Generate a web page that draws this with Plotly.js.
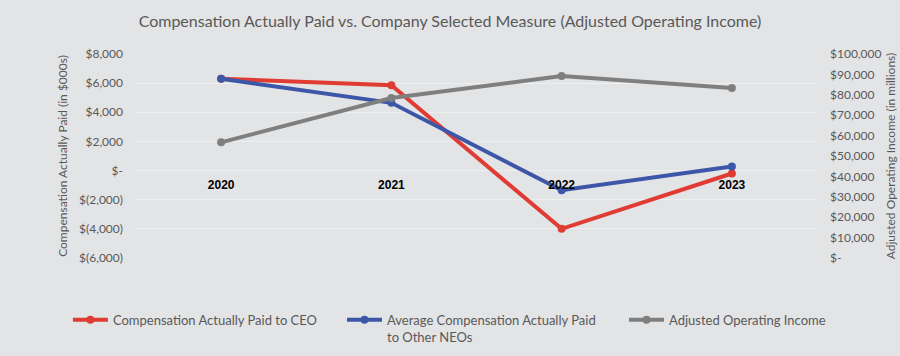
<!DOCTYPE html>
<html>
<head>
<meta charset="utf-8">
<script src="https://cdn.plot.ly/plotly-3.0.1.min.js"></script>
<style>html,body{margin:0;padding:0;background:#e3e4e6;}#chart{width:900px;height:356px;}</style>
</head>
<body>
<div id="chart"></div>
<script>
const years = ["2020", "2021", "2022", "2023"];
const ceoCap = [6300, 5850, -4000, -200];
const neoCap = [6300, 4650, -1350, 280];
const adjOpIncome = [56700, 78400, 89200, 83300];

const leftTickVals = [-6000, -4000, -2000, 0, 2000, 4000, 6000, 8000];
const leftTickText = ["$(6,000)", "$(4,000)", "$(2,000)", "$-", "$2,000", "$4,000", "$6,000", "$8,000"];
const rightTickVals = [0, 10000, 20000, 30000, 40000, 50000, 60000, 70000, 80000, 90000, 100000];
const rightTickText = ["$-", "$10,000", "$20,000", "$30,000", "$40,000", "$50,000", "$60,000", "$70,000", "$80,000", "$90,000", "$100,000"];

const FONT = "Lato, 'Open Sans', sans-serif";
const GRAY = "#595959";

const traces = [
  {x: years, y: ceoCap, name: "Compensation Actually Paid to CEO", type: "scatter", mode: "lines+markers",
   line: {color: "#e03c33", width: 4}, marker: {color: "#e03c33", size: 8}, yaxis: "y", legend: "legend"},
  {x: years, y: neoCap, name: "Average Compensation Actually Paid<br>to Other NEOs", type: "scatter", mode: "lines+markers",
   line: {color: "#3d57a8", width: 4}, marker: {color: "#3d57a8", size: 8}, yaxis: "y", legend: "legend2"},
  {x: years, y: adjOpIncome, name: "Adjusted Operating Income", type: "scatter", mode: "lines+markers",
   line: {color: "#7f7f7f", width: 4}, marker: {color: "#7f7f7f", size: 8}, yaxis: "y2", legend: "legend3"}
];

function legendAt(xPos) {
  return {orientation: "h", x: xPos, xanchor: "left", y: -0.23, yanchor: "top",
          font: {family: FONT, size: 13, color: GRAY}, bgcolor: "rgba(0,0,0,0)",
          itemwidth: 35, valign: "top"};
}

const layout = {
  width: 900, height: 356,
  paper_bgcolor: "#e3e4e6", plot_bgcolor: "#e3e4e6",
  margin: {l: 136, r: 83, t: 54, b: 98, autoexpand: false},
  font: {family: FONT, color: GRAY, size: 12},
  title: {text: "Compensation Actually Paid vs. Company Selected Measure (Adjusted Operating Income)",
          font: {family: FONT, size: 16, color: GRAY}, x: 0.5, xanchor: "center", y: 0.94, yanchor: "middle"},
  showlegend: true,
  legend: legendAt(-0.1),
  legend2: legendAt(0.3025),
  legend3: legendAt(0.7166),
  xaxis: {type: "category", range: [-0.5, 3.5], showgrid: false, zeroline: false, showline: false,
          anchor: "free", position: 6/14, ticks: "", ticklabelstandoff: 5,
          tickfont: {family: "'Liberation Sans', Arial, sans-serif", size: 12, color: "#000000", weight: "bold"}},
  yaxis: {range: [-6000, 8000], tickvals: leftTickVals, ticktext: leftTickText, showgrid: true, gridcolor: "#eeeff0",
          gridwidth: 1, zeroline: false, showline: false, ticks: "", ticklabelstandoff: 12,
          tickfont: {family: FONT, size: 12, color: GRAY},
          title: {text: "Compensation Actually Paid (in $000s)", font: {family: FONT, size: 12, color: GRAY}, standoff: 8}},
  yaxis2: {range: [0, 100000], overlaying: "y", side: "right", tickvals: rightTickVals, ticktext: rightTickText,
           showgrid: false, zeroline: false, showline: false, ticks: "", ticklabelstandoff: 12,
           tickfont: {family: FONT, size: 12, color: GRAY},
           title: {text: "Adjusted Operating Income (in millions)", font: {family: FONT, size: 12, color: GRAY}, standoff: 6}}
};

Plotly.newPlot("chart", traces, layout, {displayModeBar: false, responsive: false});
</script>
</body>
</html>
